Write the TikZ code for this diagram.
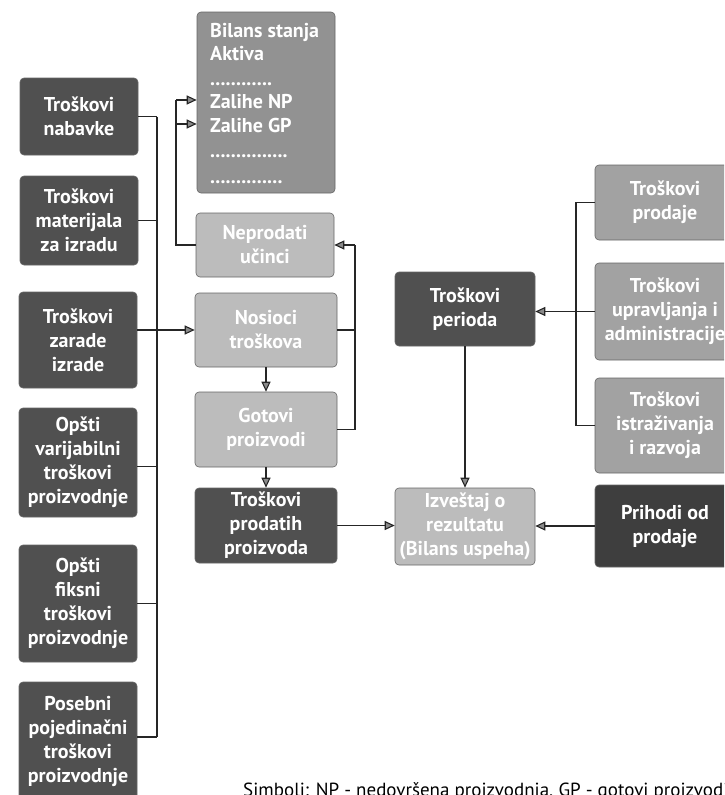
\documentclass[tikz,border=0pt]{standalone}
\usepackage{fontspec}
\setmainfont{PT Sans}
\usetikzlibrary{arrows.meta}
\definecolor{boxdark}{HTML}{505050}
\definecolor{boxdeep}{HTML}{3E3E3E}
\definecolor{boxmid}{HTML}{929292}
\definecolor{boxgray}{HTML}{A2A2A2}
\definecolor{boxlight}{HTML}{BCBCBC}
\definecolor{tipgray}{HTML}{8A8A8A}
\begin{document}
\begin{tikzpicture}[x=1pt,y=-1pt,
  box/.style={rounded corners=4pt, draw=black!60, line width=0.6pt, inner sep=0pt,
    text=white, align=center, font=\bfseries\fontsize{20}{24}\selectfont},
  dark/.style={box, fill=boxdark},
  deep/.style={box, fill=boxdeep},
  mid/.style={box, fill=boxmid},
  gray/.style={box, fill=boxgray},
  light/.style={box, fill=boxlight},
  leftcol/.style={minimum width=118pt},
  midcol/.style={minimum width=142pt},
  sidecol/.style={minimum width=140pt},
  bline/.style={anchor=base west, inner sep=0pt, text=white,
    font=\bfseries\fontsize{20}{24}\selectfont},
  wire/.style={line width=1.1pt, draw=black!85},
  arr/.style={wire, -{Triangle[length=10pt, width=9pt, fill=tipgray]}}]
\useasboundingbox (0,0) rectangle (724,795);
\clip (0,0) rectangle (724,795);

% cost categories on the left
\node[dark, leftcol, minimum height=77pt]  (nab) at (79,116.5) {Troškovi\\nabavke};
\node[dark, leftcol, minimum height=89pt]  (mat) at (79,220.5) {Troškovi\\materijala\\za izradu};
\node[dark, leftcol, minimum height=96pt]  (zar) at (78,340)   {Troškovi\\zarade\\izrade};
\node[dark, leftcol, minimum height=109pt] (var) at (78,462.5) {Opšti\\varijabilni\\troškovi\\proizvodnje};
\node[dark, leftcol, minimum height=117pt] (fik) at (78,603.5) {Opšti\\fiksni\\troškovi\\proizvodnje};
\node[dark, leftcol, minimum height=118pt] (pos) at (78,741)   {Posebni\\pojedinačni\\troškovi\\proizvodnje};

% balance sheet
\node[mid, minimum width=138pt, minimum height=181pt] (bil) at (266,102.5) {};
\node[bline] (b1) at (210,37)  {Bilans stanja};
\node[bline] (b2) at (210,60)  {Aktiva};
\node[bline] (b3) at (210,85)  {............};
\node[bline] (b4) at (210,108) {Zalihe NP};
\node[bline] (b5) at (210,132) {Zalihe GP};
\node[bline] (b6) at (210,157) {...............};
\node[bline] (b7) at (210,183) {..............};

% product flow
\node[light, minimum width=138pt, minimum height=64pt] (nep) at (265,245)   {Neprodati\\učinci};
\node[light, midcol, minimum height=74pt]              (nos) at (266,330)   {Nosioci\\troškova};
\node[light, midcol, minimum height=75pt]              (got) at (266,429.5) {Gotovi\\proizvodi};
\node[dark,  midcol, minimum height=75pt]              (pro) at (266,525.5) {Troškovi\\prodatih\\proizvoda};

% period costs and income statement
\node[dark,  sidecol, minimum height=74pt] (per) at (465,309)   {Troškovi\\perioda};
\node[light, sidecol, minimum height=77pt] (izv) at (465,526.5) {Izveštaj o\\rezultatu\\(Bilans uspeha)};

% right column
\node[gray, sidecol, minimum height=75pt] (tpr) at (665,202.5) {Troškovi\\prodaje};
\node[gray, sidecol, minimum height=97pt] (upr) at (665,311.5) {Troškovi\\upravljanja i\\administracije};
\node[gray, sidecol, minimum height=95pt] (ist) at (665,425.5) {Troškovi\\istraživanja\\i razvoja};
\node[deep, sidecol, minimum height=82pt] (prh) at (665,526)   {Prihodi od\\prodaje};

% left collecting bus
\coordinate (busT) at (157,116.5);
\coordinate (busB) at (157,737);
\draw[wire] (busT) -- (busB);
\draw[wire] (nab.east) -- (nab.east -| busT);
\draw[wire] (mat.east) -- (mat.east -| busT);
\draw[wire] ([yshift=-4pt]var.east) -- ([yshift=-4pt]var.east -| busT);
\draw[wire] (fik.east) -- (fik.east -| busT);
\draw[wire] (pos.east |- busB) -- (busB);
\draw[arr] (zar.east |- nos.west) -- (nos.west);

% unsold output to inventories
\coordinate (jn) at (176,100);
\coordinate (jg) at (176,124);
\draw[wire] (nep.west) -| (jn);
\draw[arr] (jn) -- (bil.west |- jn);
\draw[arr] (jg) -- (bil.west |- jg);

% feedback to unsold output
\coordinate (fbT) at (355,245);
\draw[wire] (nos.east) -- (nos.east -| fbT);
\draw[wire] (got.east) -| (fbT);
\draw[arr] (fbT) -- (nep.east);

\draw[arr] (nos.south) -- (got.north);
\draw[arr] (got.south) -- (pro.north);
\draw[arr] (pro.east) -- (pro.east -| izv.west);
\draw[arr] (per.south) -- (izv.north);

% right collecting bus
\coordinate (rbT) at (576,202.5);
\coordinate (rbB) at (576,425.5);
\draw[wire] (tpr.west) -- (rbT) -- (rbB) -- (ist.west);
\draw[arr] (upr.west) -- (upr.west -| per.east);
\draw[arr] (prh.west) -- (prh.west -| izv.east);

% legend
\node[anchor=base west, inner sep=0pt, font=\fontsize{19}{22}\selectfont] (leg) at (243,796)
  {Simboli: NP - nedovršena proizvodnja, GP - gotovi proizvodi};
\end{tikzpicture}
\end{document}
